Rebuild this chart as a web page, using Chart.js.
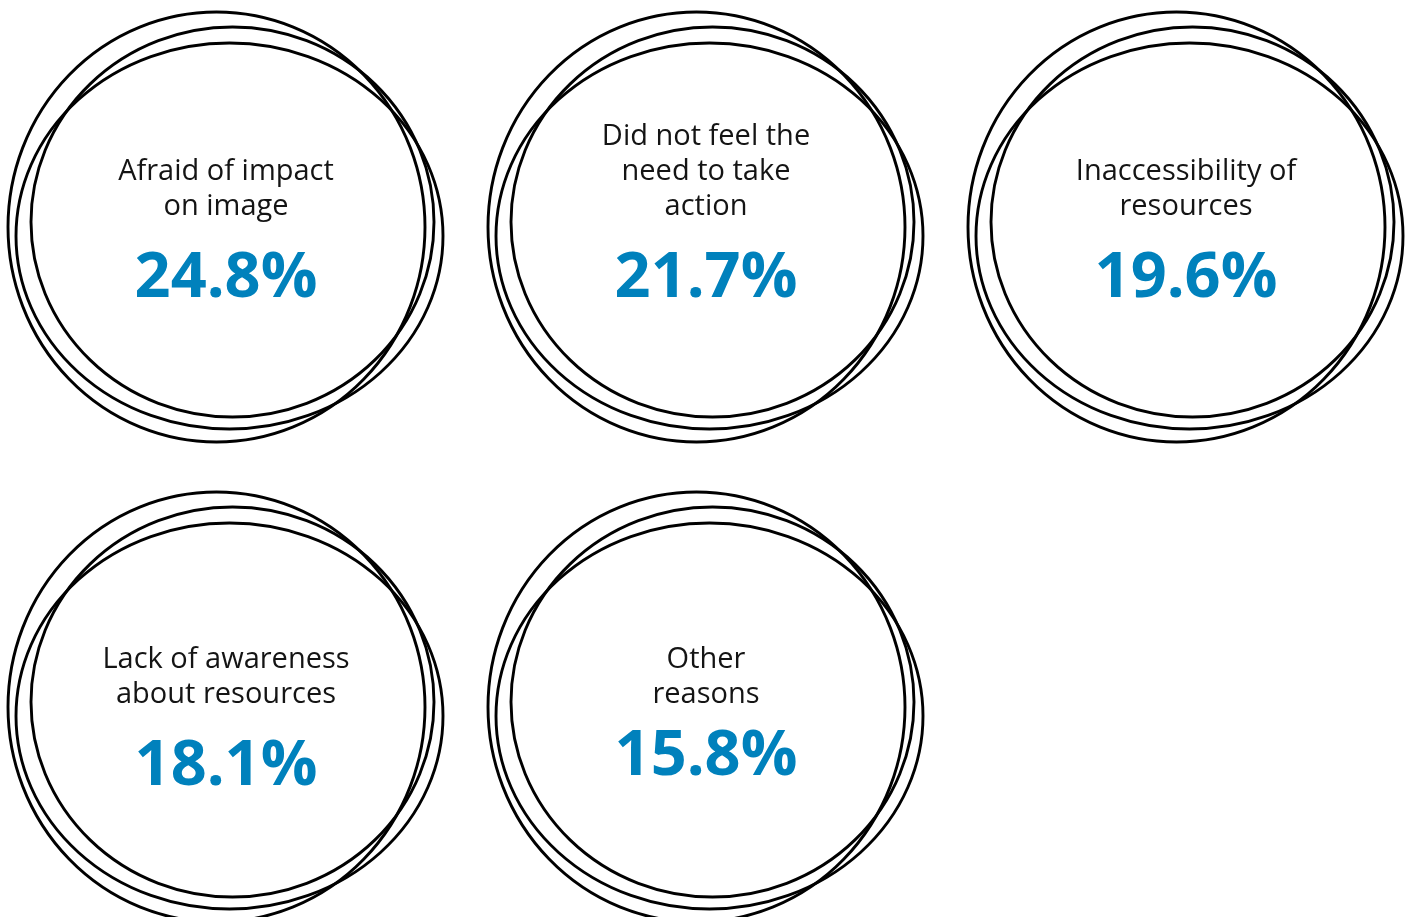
<!DOCTYPE html>
<html>
<head>
<meta charset="utf-8">
<script src="https://cdn.jsdelivr.net/npm/chart.js@4.4.1/dist/chart.umd.min.js"></script>
<style>
  html, body { margin: 0; padding: 0; background: #ffffff; }
  #wrap { width: 1410px; height: 917px; position: relative; }
</style>
</head>
<body>
<div id="wrap"><canvas id="c" width="1410" height="917"></canvas></div>
<script>
// ---- data ----
const categories = [
  ["Afraid of impact", "on image"],
  ["Did not feel the", "need to take", "action"],
  ["Inaccessibility of", "resources"],
  ["Lack of awareness", "about resources"],
  ["Other", "reasons"]
];
const values = [24.8, 21.7, 19.6, 18.1, 15.8];
const columnsPerRow = 3;

// ---- layout / style (not data) ----
const labelShift = [0, 0, 0, 8, 8];     // px vertical tweak of label block
const valueShift = [0, 0, 0, 8, -2];    // px vertical tweak of value
const rings = [ // hand-drawn look: three loose ellipses, px relative to cell centre
  { cx: -9.5, cy: 0,   rx: 208.5, ry: 215 },
  { cx: 6.5,  cy: -5,  rx: 201.5, ry: 195 },
  { cx: 3.5,  cy: 9,   rx: 213.5, ry: 193 }
];
const BLUE = '#0081BC';

const points = values.map((v, i) => ({ x: i % columnsPerRow, y: Math.floor(i / columnsPerRow), v }));

const ringPlugin = {
  id: 'rings',
  afterDatasetsDraw(chart) {
    const ctx = chart.ctx;
    const xs = chart.scales.x, ys = chart.scales.y;
    ctx.save();
    points.forEach((p, i) => {
      const cx = xs.getPixelForValue(p.x);
      const cy = ys.getPixelForValue(p.y);
      ctx.strokeStyle = '#000000';
      ctx.lineWidth = 2.9;
      rings.forEach(r => {
        ctx.beginPath();
        ctx.ellipse(cx + r.cx, cy + r.cy, r.rx, r.ry, 0, 0, Math.PI * 2);
        ctx.stroke();
      });
      // label lines
      const lines = categories[i];
      ctx.fillStyle = '#141414';
      ctx.textAlign = 'center';
      ctx.textBaseline = 'alphabetic';
      ctx.font = '29px "Open Sans", "Noto Sans", sans-serif';
      const lastBase = cy - 12 + labelShift[i];
      lines.forEach((t, k) => {
        ctx.fillText(t, cx, lastBase - (lines.length - 1 - k) * 35);
      });
      // value
      ctx.fillStyle = BLUE;
      ctx.font = 'bold 63px "Open Sans", "Noto Sans", sans-serif';
      ctx.fillText(p.v.toFixed(1) + '%', cx, cy + 70 + valueShift[i]);
    });
    ctx.restore();
  }
};

new Chart(document.getElementById('c'), {
  type: 'scatter',
  data: {
    datasets: [{
      data: points,
      pointRadius: 0,
      pointHoverRadius: 0,
      showLine: false
    }]
  },
  options: {
    responsive: false,
    animation: false,
    events: [],
    layout: { padding: 0 },
    plugins: { legend: { display: false }, tooltip: { enabled: false } },
    scales: {
      x: { type: 'linear', display: false, min: -226 / 480, max: (1410 - 226) / 480 },
      y: { type: 'linear', display: false, reverse: true, min: -227 / 480, max: (917 - 227) / 480 }
    }
  },
  plugins: [ringPlugin]
});
</script>
</body>
</html>
